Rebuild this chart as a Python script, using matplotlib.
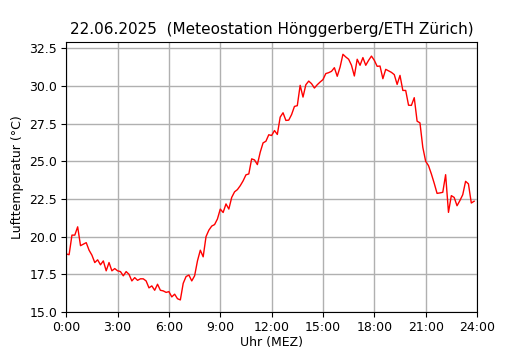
import matplotlib
matplotlib.use('Agg')
import matplotlib.pyplot as plt
from matplotlib.ticker import MultipleLocator, FormatStrFormatter
import numpy as np

# 10-Minuten-Werte, 00:00 bis 23:50
temperatur = [
    18.85, 18.8, 20.1, 20.1, 20.65, 19.4, 19.5, 19.6, 19.1, 18.77,
    18.28, 18.46, 18.13, 18.39, 17.73, 18.28, 17.73, 17.88, 17.73, 17.68,
    17.4, 17.68, 17.5, 17.06, 17.28, 17.1, 17.2, 17.2, 17.06, 16.6,
    16.73, 16.44, 16.84, 16.44, 16.4, 16.3, 16.35, 16.0, 16.18, 15.88,
    15.8, 16.9, 17.35, 17.45, 17.06, 17.4, 18.39, 19.1, 18.66, 20.0,
    20.43, 20.7, 20.8, 21.17, 21.83, 21.6, 22.17, 21.83, 22.6, 22.97,
    23.12, 23.38, 23.7, 24.1, 24.16, 25.16, 25.09, 24.78, 25.6, 26.22,
    26.33, 26.76, 26.71, 27.04, 26.78, 27.93, 28.22, 27.71, 27.73, 28.1,
    28.64, 28.69, 30.04, 29.26, 30.08, 30.32, 30.15, 29.86, 30.08, 30.26,
    30.42, 30.82, 30.88, 30.97, 31.21, 30.64, 31.25, 32.1, 31.92, 31.77,
    31.37, 30.66, 31.77, 31.37, 31.88, 31.37, 31.7, 31.98, 31.7, 31.3,
    31.32, 30.48, 31.1, 31.0, 30.9, 30.75, 30.1, 30.7, 29.7, 29.7,
    28.72, 28.71, 29.22, 27.66, 27.55, 25.93, 25.0, 24.71, 24.16, 23.54,
    22.87, 22.9, 22.94, 24.11, 21.61, 22.72, 22.6, 22.05, 22.39, 22.78,
    23.67, 23.5, 22.23, 22.35,
]
stunden = np.arange(len(temperatur)) / 6.0

xticks = [0, 3, 6, 9, 12, 15, 18, 21, 24]
xticklabels = ['0:00', '3:00', '6:00', '9:00', '12:00', '15:00', '18:00', '21:00', '24:00']

fig, ax = plt.subplots(figsize=(5.3, 3.5), dpi=100)
fig.subplots_adjust(left=0.125, right=0.9, top=0.88, bottom=0.108)

ax.plot(stunden, temperatur, color='red', linewidth=1)
ax.set_xlim(0, 24)
ax.set_xticks(xticks)
ax.set_xticklabels(xticklabels)
ax.yaxis.set_major_locator(MultipleLocator(2.5))
ax.yaxis.set_major_formatter(FormatStrFormatter('%.1f'))
ax.grid(True, color='#b0b0b0', linewidth=1)
ax.set_axisbelow(True)
ax.tick_params(labelsize=9, pad=3)

ax.set_title('22.06.2025  (Meteostation Hönggerberg/ETH Zürich)', fontsize=11)
ax.set_xlabel('Uhr (MEZ)', fontsize=9, labelpad=1)
ax.set_ylabel('Lufttemperatur (°C)', fontsize=9)

fig.savefig('out.png', dpi=100)
